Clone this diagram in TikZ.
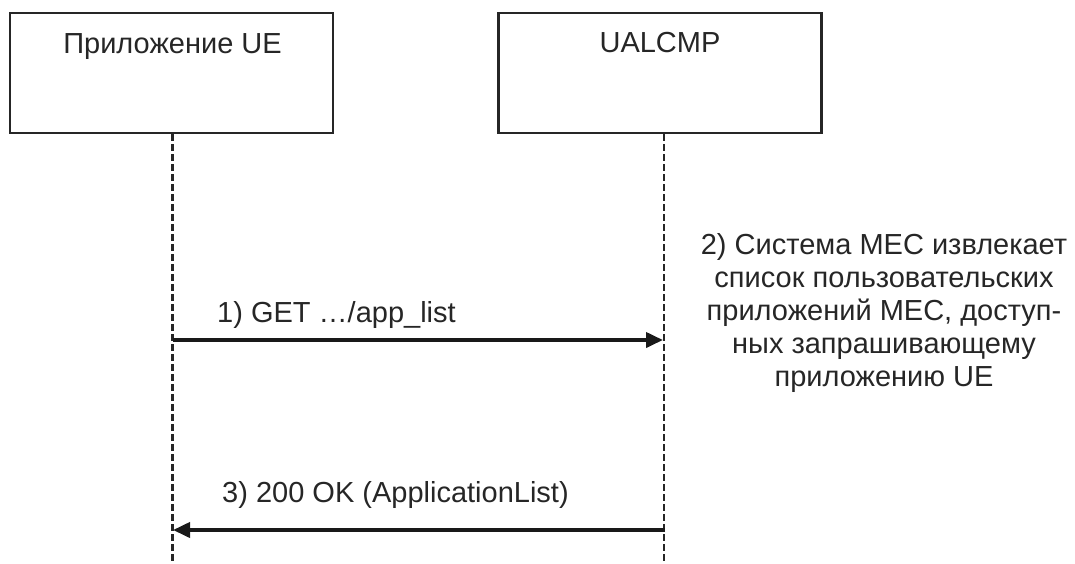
\documentclass[tikz,border=0pt]{standalone}
\usepackage{fontspec}
\setmainfont{Liberation Sans}
\usetikzlibrary{arrows.meta}
\begin{document}
\begin{tikzpicture}[x=1pt,y=-1pt,
  actor/.style={draw=black!85, line width=2.5pt, minimum width=323pt, minimum height=120pt, inner sep=0pt},
  lbl/.style={font=\fontsize{29}{33}\selectfont, inner sep=0pt, text=black!85},
  life/.style={dash pattern=on 7pt off 3pt, draw=black!85},
  msg/.style={line width=3.8pt, draw=black!90, -{Triangle[length=17pt,width=15pt]}}]
\useasboundingbox (0,0) rectangle (1075,563);
\node[actor] (ue) at (171.5,73) {};
\node[actor] (mp) at (660,73) {};
\node[lbl, anchor=base] (uet) at (172.5,53) {Приложение UE};
\node[lbl, anchor=base] (mpt) at (660,52) {UALCMP};
\coordinate (uel) at (172,134);
\coordinate (mpl) at (664,134);
\coordinate (ueb) at (172,563);
\coordinate (mpb) at (664,563);
\draw[life, line width=3pt] (uel) -- (ueb);
\draw[life, line width=1.6pt] (mpl) -- (mpb);
\coordinate (m1s) at (173,340);
\coordinate (m1e) at (663,340);
\coordinate (m3s) at (665,530);
\coordinate (m3e) at (173,530);
\draw[msg] (m1s) -- (m1e);
\draw[msg] (m3s) -- (m3e);
\node[lbl, anchor=base west] (t1) at (217,322) {1) GET …/app\_list};
\node[lbl, anchor=base west] (t3) at (222,502) {3) 200 OK (ApplicationList)};
\node[lbl, align=center, anchor=north] (t2) at (884,233)
 {2) Система MEC извлекает\\список пользовательских\\приложений MEC, доступ-\\ных запрашивающему\\приложению UE};
\end{tikzpicture}
\end{document}
